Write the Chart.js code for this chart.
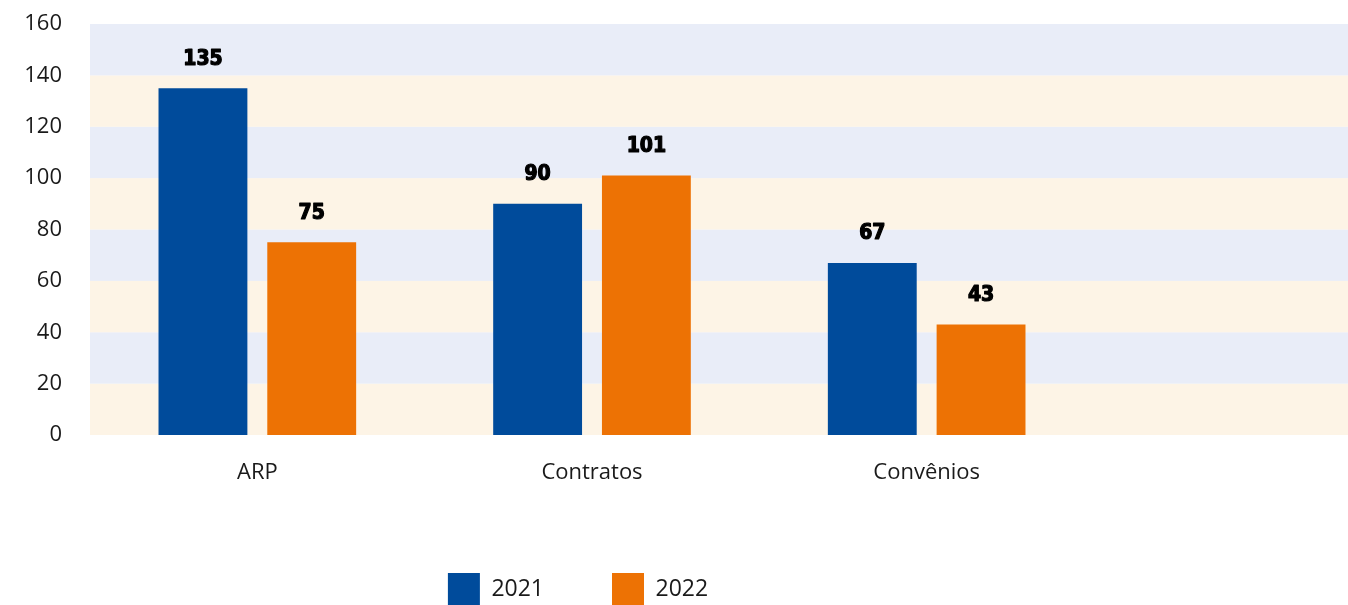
<!DOCTYPE html>
<html>
<head>
<meta charset="utf-8">
<script src="https://cdn.jsdelivr.net/npm/chart.js@4"></script>
<style>
  html, body { margin: 0; padding: 0; background: #fff; overflow: hidden; }
  #wrap { width: 1348px; height: 605px; }
</style>
</head>
<body>
<div id="wrap"><canvas id="chart"></canvas></div>
<script>
// dados do gráfico
const categories = ['ARP', 'Contratos', 'Convênios'];
const seriesNames = ['2021', '2022'];
const values2021 = [135, 90, 67];
const values2022 = [75, 101, 43];
const yTicks = [0, 20, 40, 60, 80, 100, 120, 140, 160];

const BLUE = 'rgb(0, 75, 155)';
const ORANGE = 'rgb(237, 114, 4)';
const BAND_BLUE = 'rgb(233, 237, 248)';
const BAND_ORANGE = 'rgb(253, 244, 230)';

// faixas alternadas no fundo, estendidas até a borda direita
const bandsPlugin = {
    id: 'bands',
    beforeDatasetsDraw(chart) {
        const y = chart.scales.y;
        const ctx = chart.ctx;
        ctx.save();
        for (let i = 0; i < yTicks.length - 1; i++) {
            const top = y.getPixelForValue(yTicks[i + 1]);
            const bottom = y.getPixelForValue(yTicks[i]);
            ctx.fillStyle = i % 2 === 0 ? BAND_ORANGE : BAND_BLUE;
            ctx.fillRect(chart.chartArea.left, top, chart.width - chart.chartArea.left, bottom - top);
        }
        ctx.restore();
    }
};

// rótulos de valor acima das barras
const valueLabels = {
    id: 'valueLabels',
    afterDatasetsDraw(chart) {
        const ctx = chart.ctx;
        ctx.save();
        ctx.font = 'bold 21px "DejaVu Sans Condensed", "DejaVu Sans", sans-serif';
        ctx.fillStyle = '#000';
        ctx.strokeStyle = '#000';
        ctx.lineWidth = 1.2;
        ctx.lineJoin = 'round';
        ctx.textAlign = 'center';
        ctx.textBaseline = 'middle';
        chart.data.datasets.forEach((ds, di) => {
            chart.getDatasetMeta(di).data.forEach((bar, i) => {
                ctx.strokeText(ds.data[i], bar.x, bar.y - 29);
                ctx.fillText(ds.data[i], bar.x, bar.y - 29);
            });
        });
        ctx.restore();
    }
};

// desloca a legenda um pouco para a esquerda
const legendShift = {
    id: 'legendShift',
    afterLayout(chart) {
        chart.legend.left -= 14;
        chart.legend.right -= 14;
    }
};

new Chart(document.getElementById('chart'), {
    type: 'bar',
    data: {
        labels: categories,
        datasets: [
            { label: seriesNames[0], data: values2021, backgroundColor: BLUE },
            { label: seriesNames[1], data: values2022, backgroundColor: ORANGE }
        ]
    },
    options: {
        responsive: true,
        maintainAspectRatio: false,
        animation: false,
        categoryPercentage: 0.65,
        barPercentage: 0.817,
        layout: { padding: { top: 24, left: 24, right: 254, bottom: -10 } },
        scales: {
            x: {
                grid: { display: false, drawTicks: false },
                border: { display: false },
                ticks: { color: '#1a1a1a', padding: 25, font: { family: '"Open Sans"', size: 22 } },
                afterFit(scale) { scale.height = 70; }
            },
            y: {
                min: 0,
                max: 160,
                grid: { display: false, drawTicks: false },
                border: { display: false },
                afterBuildTicks(scale) { scale.ticks = yTicks.map(v => ({ value: v })); },
                ticks: { color: '#1a1a1a', padding: 28, font: { family: '"Open Sans"', size: 22 } },
                afterFit(scale) {
                    scale.width = 66;
                    scale.paddingTop = 12;
                    scale.paddingBottom = 12;
                }
            }
        },
        plugins: {
            legend: {
                position: 'bottom',
                fullSize: false,
                labels: {
                    boxWidth: 32,
                    boxHeight: 32,
                    padding: 68,
                    color: '#1a1a1a',
                    font: { family: '"Open Sans"', size: 23 }
                }
            },
            tooltip: { enabled: false }
        }
    },
    plugins: [bandsPlugin, valueLabels, legendShift]
});
</script>
</body>
</html>
